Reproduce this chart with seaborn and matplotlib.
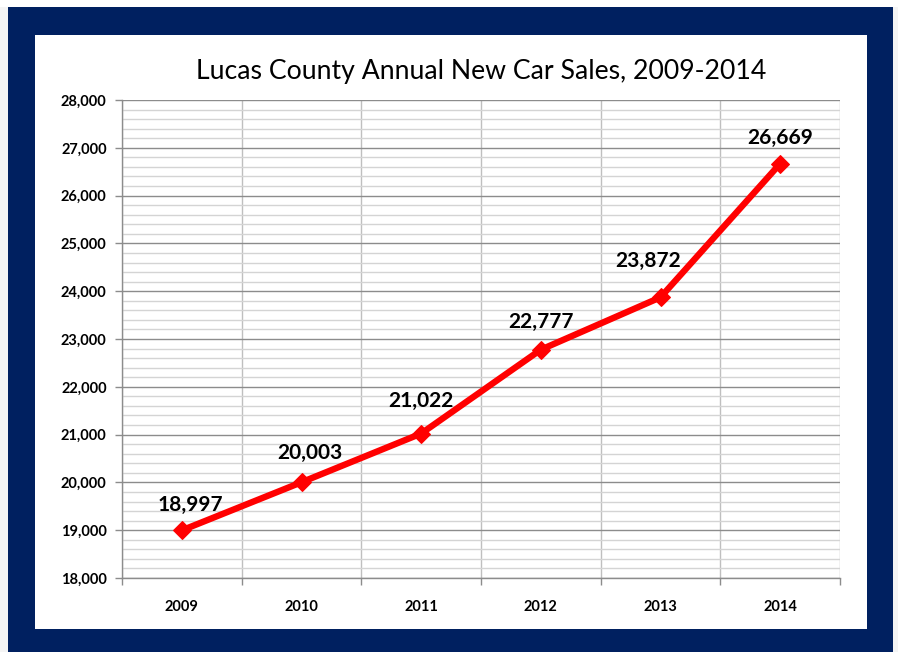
import matplotlib
matplotlib.use('Agg')
import matplotlib.pyplot as plt
from matplotlib.patches import Rectangle
from matplotlib.ticker import MultipleLocator, FuncFormatter, FixedLocator
import seaborn as sns
import pandas as pd

# chart data
years = ['2009', '2010', '2011', '2012', '2013', '2014']
sales = [18997, 20003, 21022, 22777, 23872, 26669]
title = 'Lucas County Annual New Car Sales, 2009-2014'

# label offsets (points) relative to each marker
label_offsets = [(6, 11), (6, 14), (0, 16), (0, 13), (-9, 19), (0, 11)]

sns.set_theme(style='white')
plt.rcParams['font.family'] = ['Lato', 'DejaVu Sans']

df = pd.DataFrame({'pos': range(len(years)), 'sales': sales})

fig = plt.figure(figsize=(8.98, 6.52), dpi=100)
fig.patch.set_facecolor('#f4f4f4')

W, H = 898, 652
def frect(x0, y0, x1, y1, **kw):
    # pixel rectangle (top-left origin) into figure coords
    fig.patches.append(Rectangle((x0 / W, 1 - y1 / H), (x1 - x0) / W, (y1 - y0) / H,
                                 transform=fig.transFigure, figure=fig, **kw))

frect(0, 0, 898, 7, facecolor='white', edgecolor='none', zorder=0)
frect(8, 7, 893, 652, facecolor='#002060', edgecolor='none', zorder=1)
frect(35, 35, 867, 629, facecolor='white', edgecolor='none', zorder=2)

ax = fig.add_axes([122 / W, 1 - 578 / H, 718 / W, 478 / H])
ax.set_zorder(3)
ax.set_facecolor('white')

sns.lineplot(data=df, x='pos', y='sales', ax=ax, color='#ff0000', linewidth=4.6,
             marker='D', markersize=9, markeredgecolor='#ff0000', zorder=5)

ax.set_xlim(-0.5, len(years) - 0.5)
ax.set_ylim(18000, 28000)

ax.xaxis.set_major_locator(FixedLocator(list(range(len(years)))))
ax.set_xticklabels(years)
ax.xaxis.set_minor_locator(FixedLocator([i - 0.5 for i in range(len(years) + 1)]))
ax.yaxis.set_major_locator(MultipleLocator(1000))
ax.yaxis.set_minor_locator(MultipleLocator(200))
ax.yaxis.set_major_formatter(FuncFormatter(lambda v, p: f'{int(v):,}'))

ax.grid(which='major', axis='y', color='#8c8c8c', linewidth=1.0)
ax.grid(which='minor', axis='y', color='#d4d4d4', linewidth=1.0)
ax.grid(which='minor', axis='x', color='#bfbfbf', linewidth=1.0)
ax.set_axisbelow(True)

ax.tick_params(axis='y', which='major', left=True, length=5, width=1, color='#8c8c8c',
               labelsize=10.5, pad=6)
ax.tick_params(axis='y', which='minor', left=False)
ax.tick_params(axis='x', which='major', bottom=False, labelsize=10.5, pad=10)
ax.tick_params(axis='x', which='minor', bottom=True, length=5, width=1, color='#8c8c8c')
for lab in ax.get_xticklabels() + ax.get_yticklabels():
    lab.set_fontweight('bold')
    lab.set_color('black')

for side in ['top', 'right']:
    ax.spines[side].set_visible(False)
for side in ['left', 'bottom']:
    ax.spines[side].set_color('#8c8c8c')
    ax.spines[side].set_linewidth(1.0)

ax.set_xlabel('')
ax.set_ylabel('')

for i, v in enumerate(sales):
    ax.annotate(f'{v:,}', (i, v), xytext=label_offsets[i], textcoords='offset points',
                ha='center', va='bottom', fontsize=15, fontweight='bold', color='black')

fig.text((122 + 840) / 2 / W, 1 - 72 / H, title, ha='center', va='center',
         fontsize=19.2, color='black', zorder=4)

fig.savefig('out.png', dpi=100, facecolor=fig.get_facecolor())
